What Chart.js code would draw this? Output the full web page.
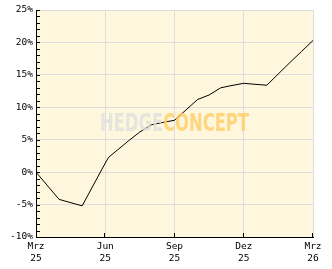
<!DOCTYPE html>
<html>
<head>
<meta charset="utf-8">
<script src="https://cdn.jsdelivr.net/npm/chart.js@4/dist/chart.umd.min.js"></script>
<style>
  html, body { margin: 0; padding: 0; background: #fff; }
  #wrap { width: 332px; height: 269px; }
</style>
</head>
<body>
<div id="wrap"><canvas id="myChart" width="332" height="269"></canvas></div>
<script>
// months since Mrz 25 (x) and performance in % (y)
const monthPos = [0, 1, 2, 3, 3.15, 4, 4.5, 5, 5.4, 6, 7, 7.5, 8, 8.4, 9, 9.3, 10, 11, 11.5, 12];
const perfValues = [0, -4.2, -5.2, 1.4, 2.3, 4.8, 6.2, 7.3, 7.6, 8.0, 11.2, 11.9, 13.0, 13.3, 13.7, 13.6, 13.4, 16.9, 18.6, 20.3];

// tick labels
const xTickLabels = [["Mrz", "25"], ["Jun", "25"], ["Sep", "25"], ["Dez", "25"], ["Mrz", "26"]];
const yMin = -10;
const yMax = 25;

const points = monthPos.map((m, i) => ({ x: m, y: perfValues[i] }));

const tickFont = { family: "'DejaVu Sans Mono', monospace", size: 9.5 };

// cream plot background + inward ticks + watermark
const chartDeco = {
  id: "chartDeco",
  beforeDraw(chart) {
    const { ctx, chartArea: a } = chart;
    ctx.save();
    ctx.fillStyle = "#fff7dd";
    ctx.fillRect(a.left, a.top, a.right - a.left, a.bottom - a.top);
    ctx.restore();
  },
  afterDraw(chart) {
    const { ctx, chartArea: a } = chart;
    const ys = chart.scales.y;
    const xs = chart.scales.x;
    ctx.save();
    ctx.strokeStyle = "#000";
    ctx.lineWidth = 1;
    ctx.beginPath();
    for (let v = yMin; v <= yMax; v++) {
      const py = Math.round(ys.getPixelForValue(v)) + 0.5;
      ctx.moveTo(a.left, py);
      ctx.lineTo(a.left + 4, py);
    }
    for (let m = 3; m <= 12; m += 3) {
      const px = Math.round(xs.getPixelForValue(m)) - 0.5;
      ctx.moveTo(px, a.bottom);
      ctx.lineTo(px, a.bottom - 4);
    }
    ctx.stroke();

    // watermark
    const cx = (a.left + a.right) / 2;
    const cy = ys.getPixelForValue(7.5);
    ctx.font = "bold 25px 'DejaVu Sans Condensed', 'Liberation Sans', sans-serif";
    ctx.textBaseline = "middle";
    const w1 = ctx.measureText("HEDGE").width;
    const w2 = ctx.measureText("CONCEPT").width;
    const target = 149;
    const k = target / (w1 + w2);
    ctx.translate(cx - target / 2, cy + 1);
    ctx.scale(k, 1);
    ctx.globalAlpha = 0.8;
    ctx.fillStyle = "#dedede";
    ctx.fillText("HEDGE", 0, 0);
    ctx.fillStyle = "#ffcc66";
    ctx.fillText("CONCEPT", w1, 0);
    ctx.restore();
  }
};

const ctx = document.querySelector("#myChart").getContext("2d");
const myChart = new Chart(ctx, {
  type: "line",
  data: {
    datasets: [
      {
        data: points,
        borderColor: "#000",
        borderWidth: 1,
        pointRadius: 0,
        tension: 0,
        fill: false,
      },
    ],
  },
  options: {
    responsive: false,
    animation: false,
    layout: {
      padding: { top: 10, right: 19, left: 0, bottom: 0 },
    },
    plugins: {
      legend: { display: false },
      tooltip: { enabled: false },
    },
    scales: {
      x: {
        type: "linear",
        min: 0,
        max: 12,
        afterFit: (s) => { s.height = 32; },
        afterBuildTicks: (s) => {
          s.ticks = [0, 3, 6, 9, 12].map((v) => ({ value: v }));
        },
        ticks: {
          color: "#000",
          font: tickFont,
          padding: 4,
          maxRotation: 0,
          autoSkip: false,
          callback: (v) => xTickLabels[v / 3],
        },
        grid: { color: "#dddddd", drawTicks: false },
        border: { color: "#000" },
      },
      y: {
        min: yMin,
        max: yMax,
        afterFit: (s) => { s.width = 36; },
        ticks: {
          stepSize: 5,
          color: "#000",
          font: tickFont,
          padding: 3,
          callback: (v) => v + "%",
        },
        grid: { color: "#dddddd", drawTicks: false },
        border: { color: "#000" },
      },
    },
  },
  plugins: [chartDeco],
});
</script>
</body>
</html>
